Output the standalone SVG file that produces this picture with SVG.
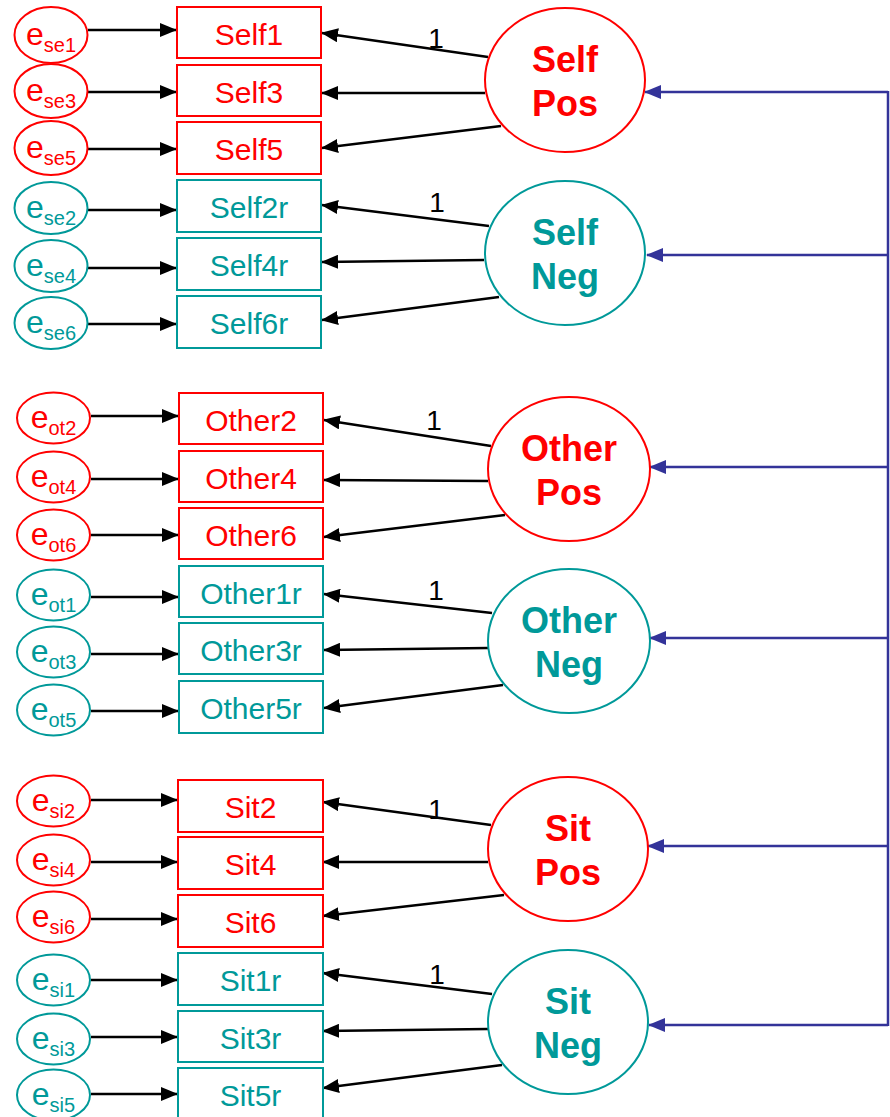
<svg xmlns="http://www.w3.org/2000/svg" width="890" height="1117" viewBox="0 0 890 1117">
<defs>
<style>
.r{stroke:#FF0000;fill:#fff;stroke-width:2}
.t{stroke:#009999;fill:#fff;stroke-width:2}
.rt{fill:#FF0000}
.tt{fill:#009999}
text{font-family:"Liberation Sans",Arial,sans-serif}
.lbl{font-size:30px;text-anchor:middle}
.err{font-size:32px;text-anchor:middle}
.sub{font-size:20px}
.lat{font-size:36px;font-weight:bold;text-anchor:middle}
.one{font-size:28px;text-anchor:middle;fill:#000}
.ar{stroke:#000;stroke-width:2.5;fill:none;marker-end:url(#ah)}
.bl{stroke:#333399;stroke-width:2.5;fill:none}
.ba{stroke:#333399;stroke-width:2.5;fill:none;marker-end:url(#bh)}
</style>
<marker id="ah" markerUnits="userSpaceOnUse" markerWidth="17" markerHeight="14" refX="16" refY="7" orient="auto"><path d="M0,0 L17,7 L0,14 z" fill="#000"/></marker>
<marker id="bh" markerUnits="userSpaceOnUse" markerWidth="17" markerHeight="14" refX="16" refY="7" orient="auto"><path d="M0,0 L17,7 L0,14 z" fill="#333399"/></marker>
</defs>
<rect width="890" height="1117" fill="#fff"/>

<g id="connectors">
<line class="ar" x1="88" y1="30" x2="176" y2="30"/>
<line class="ar" x1="88" y1="92" x2="176" y2="92"/>
<line class="ar" x1="88" y1="149" x2="176" y2="149"/>
<line class="ar" x1="88" y1="210" x2="176" y2="210"/>
<line class="ar" x1="88" y1="268" x2="176" y2="268"/>
<line class="ar" x1="88" y1="324" x2="176" y2="324"/>
<line class="ar" x1="91" y1="416" x2="178" y2="416"/>
<line class="ar" x1="91" y1="479" x2="178" y2="479"/>
<line class="ar" x1="91" y1="535" x2="178" y2="535"/>
<line class="ar" x1="91" y1="597" x2="178" y2="597"/>
<line class="ar" x1="91" y1="654" x2="178" y2="654"/>
<line class="ar" x1="91" y1="711" x2="178" y2="711"/>
<line class="ar" x1="91" y1="800" x2="177" y2="800"/>
<line class="ar" x1="91" y1="862" x2="177" y2="862"/>
<line class="ar" x1="91" y1="919" x2="177" y2="919"/>
<line class="ar" x1="91" y1="980" x2="177" y2="980"/>
<line class="ar" x1="91" y1="1037" x2="177" y2="1037"/>
<line class="ar" x1="91" y1="1094" x2="177" y2="1094"/>
<line class="ar" x1="488" y1="57" x2="322" y2="33"/>
<line class="ar" x1="485" y1="93" x2="322" y2="93"/>
<line class="ar" x1="501" y1="126" x2="322" y2="148"/>
<line class="ar" x1="489" y1="226" x2="322" y2="205"/>
<line class="ar" x1="484" y1="260" x2="322" y2="262"/>
<line class="ar" x1="499" y1="297" x2="322" y2="320"/>
<line class="ar" x1="491" y1="446" x2="324" y2="420"/>
<line class="ar" x1="488" y1="481" x2="324" y2="480"/>
<line class="ar" x1="505" y1="515" x2="324" y2="537"/>
<line class="ar" x1="492" y1="613" x2="324" y2="594"/>
<line class="ar" x1="488" y1="648" x2="324" y2="650"/>
<line class="ar" x1="503" y1="685" x2="324" y2="708"/>
<line class="ar" x1="491" y1="825" x2="323" y2="802"/>
<line class="ar" x1="488" y1="862" x2="323" y2="862"/>
<line class="ar" x1="504" y1="895" x2="323" y2="916"/>
<line class="ar" x1="492" y1="994" x2="323" y2="973"/>
<line class="ar" x1="488" y1="1029" x2="323" y2="1031"/>
<line class="ar" x1="502" y1="1065" x2="323" y2="1088"/>
<line class="bl" x1="888" y1="91" x2="888" y2="1026"/>
<line class="ba" x1="888" y1="92" x2="645" y2="92"/>
<line class="ba" x1="888" y1="255" x2="647" y2="255"/>
<line class="ba" x1="888" y1="467" x2="650" y2="467"/>
<line class="ba" x1="888" y1="638" x2="650" y2="638"/>
<line class="ba" x1="888" y1="846" x2="648" y2="846"/>
<line class="ba" x1="888" y1="1025" x2="649" y2="1025"/>
<text class="one" x="436" y="48">1</text>
<text class="one" x="437" y="212">1</text>
<text class="one" x="434" y="430">1</text>
<text class="one" x="436" y="600">1</text>
<text class="one" x="436" y="819">1</text>
<text class="one" x="437" y="984">1</text>
</g>

<g id="e_se1"><ellipse class="r" cx="51" cy="35" rx="36.5" ry="28"/><text class="err rt" x="51" y="45">e<tspan class="sub" dy="7">se1</tspan></text></g>
<g id="e_se3"><ellipse class="r" cx="51" cy="91" rx="36.5" ry="27"/><text class="err rt" x="51" y="101">e<tspan class="sub" dy="7">se3</tspan></text></g>
<g id="e_se5"><ellipse class="r" cx="51" cy="148" rx="36.5" ry="27"/><text class="err rt" x="51" y="158">e<tspan class="sub" dy="7">se5</tspan></text></g>
<g id="e_se2"><ellipse class="t" cx="51" cy="208" rx="36.5" ry="26"/><text class="err tt" x="51" y="218">e<tspan class="sub" dy="7">se2</tspan></text></g>
<g id="e_se4"><ellipse class="t" cx="51" cy="266" rx="36.5" ry="26"/><text class="err tt" x="51" y="276">e<tspan class="sub" dy="7">se4</tspan></text></g>
<g id="e_se6"><ellipse class="t" cx="51" cy="323" rx="36.5" ry="26"/><text class="err tt" x="51" y="333">e<tspan class="sub" dy="7">se6</tspan></text></g>

<g id="e_ot2"><ellipse class="r" cx="53.5" cy="418" rx="36.5" ry="25.5"/><text class="err rt" x="53.5" y="428">e<tspan class="sub" dy="7">ot2</tspan></text></g>
<g id="e_ot4"><ellipse class="r" cx="53.5" cy="477" rx="36.5" ry="25.5"/><text class="err rt" x="53.5" y="487">e<tspan class="sub" dy="7">ot4</tspan></text></g>
<g id="e_ot6"><ellipse class="r" cx="53.5" cy="535" rx="36.5" ry="25.5"/><text class="err rt" x="53.5" y="545">e<tspan class="sub" dy="7">ot6</tspan></text></g>
<g id="e_ot1"><ellipse class="t" cx="53.5" cy="595" rx="36.5" ry="25.5"/><text class="err tt" x="53.5" y="605">e<tspan class="sub" dy="7">ot1</tspan></text></g>
<g id="e_ot3"><ellipse class="t" cx="53.5" cy="652" rx="36.5" ry="25.5"/><text class="err tt" x="53.5" y="662">e<tspan class="sub" dy="7">ot3</tspan></text></g>
<g id="e_ot5"><ellipse class="t" cx="53.5" cy="710" rx="36.5" ry="25.5"/><text class="err tt" x="53.5" y="720">e<tspan class="sub" dy="7">ot5</tspan></text></g>

<g id="e_si2"><ellipse class="r" cx="53.5" cy="801" rx="36.5" ry="25.5"/><text class="err rt" x="53.5" y="811">e<tspan class="sub" dy="7">si2</tspan></text></g>
<g id="e_si4"><ellipse class="r" cx="53.5" cy="860" rx="36.5" ry="25.5"/><text class="err rt" x="53.5" y="870">e<tspan class="sub" dy="7">si4</tspan></text></g>
<g id="e_si6"><ellipse class="r" cx="53.5" cy="917" rx="36.5" ry="25.5"/><text class="err rt" x="53.5" y="927">e<tspan class="sub" dy="7">si6</tspan></text></g>
<g id="e_si1"><ellipse class="t" cx="53.5" cy="980" rx="36.5" ry="25.5"/><text class="err tt" x="53.5" y="990">e<tspan class="sub" dy="7">si1</tspan></text></g>
<g id="e_si3"><ellipse class="t" cx="53.5" cy="1039" rx="36.5" ry="25.5"/><text class="err tt" x="53.5" y="1049">e<tspan class="sub" dy="7">si3</tspan></text></g>
<g id="e_si5"><ellipse class="t" cx="53.5" cy="1095" rx="36.5" ry="25.5"/><text class="err tt" x="53.5" y="1105">e<tspan class="sub" dy="7">si5</tspan></text></g>

<g id="Self1"><rect class="r" x="177" y="7" width="144" height="51"/><text class="lbl rt" x="249" y="45">Self1</text></g>
<g id="Self3"><rect class="r" x="177" y="65" width="144" height="51"/><text class="lbl rt" x="249" y="103">Self3</text></g>
<g id="Self5"><rect class="r" x="177" y="122" width="144" height="52"/><text class="lbl rt" x="249" y="160">Self5</text></g>
<g id="Self2r"><rect class="t" x="177" y="180" width="144" height="52"/><text class="lbl tt" x="249" y="218">Self2r</text></g>
<g id="Self4r"><rect class="t" x="177" y="238" width="144" height="52"/><text class="lbl tt" x="249" y="276">Self4r</text></g>
<g id="Self6r"><rect class="t" x="177" y="296" width="144" height="52"/><text class="lbl tt" x="249" y="334">Self6r</text></g>

<g id="Other2"><rect class="r" x="179" y="393" width="144" height="51"/><text class="lbl rt" x="251" y="431">Other2</text></g>
<g id="Other4"><rect class="r" x="179" y="451" width="144" height="51"/><text class="lbl rt" x="251" y="489">Other4</text></g>
<g id="Other6"><rect class="r" x="179" y="508" width="144" height="51"/><text class="lbl rt" x="251" y="546">Other6</text></g>
<g id="Other1r"><rect class="t" x="179" y="566" width="144" height="51"/><text class="lbl tt" x="251" y="604">Other1r</text></g>
<g id="Other3r"><rect class="t" x="179" y="623" width="144" height="51"/><text class="lbl tt" x="251" y="661">Other3r</text></g>
<g id="Other5r"><rect class="t" x="179" y="681" width="144" height="52"/><text class="lbl tt" x="251" y="719">Other5r</text></g>

<g id="Sit2"><rect class="r" x="178" y="780" width="145" height="52"/><text class="lbl rt" x="250.5" y="818">Sit2</text></g>
<g id="Sit4"><rect class="r" x="178" y="837" width="145" height="52"/><text class="lbl rt" x="250.5" y="875">Sit4</text></g>
<g id="Sit6"><rect class="r" x="178" y="895" width="145" height="52"/><text class="lbl rt" x="250.5" y="933">Sit6</text></g>
<g id="Sit1r"><rect class="t" x="178" y="953" width="145" height="52"/><text class="lbl tt" x="250.5" y="991">Sit1r</text></g>
<g id="Sit3r"><rect class="t" x="178" y="1011" width="145" height="51"/><text class="lbl tt" x="250.5" y="1049">Sit3r</text></g>
<g id="Sit5r"><rect class="t" x="178" y="1068" width="145" height="52"/><text class="lbl tt" x="250.5" y="1106">Sit5r</text></g>

<g id="SelfPos"><ellipse class="r" cx="565" cy="80" rx="80" ry="72"/><text class="lat rt" x="565" y="72">Self</text><text class="lat rt" x="565" y="116">Pos</text></g>
<g id="SelfNeg"><ellipse class="t" cx="565" cy="253" rx="80" ry="72"/><text class="lat tt" x="565" y="245">Self</text><text class="lat tt" x="565" y="289">Neg</text></g>
<g id="OtherPos"><ellipse class="r" cx="569" cy="469" rx="81" ry="72"/><text class="lat rt" x="569" y="461">Other</text><text class="lat rt" x="569" y="505">Pos</text></g>
<g id="OtherNeg"><ellipse class="t" cx="569" cy="641" rx="81" ry="72"/><text class="lat tt" x="569" y="633">Other</text><text class="lat tt" x="569" y="677">Neg</text></g>
<g id="SitPos"><ellipse class="r" cx="568" cy="849" rx="80" ry="72"/><text class="lat rt" x="568" y="841">Sit</text><text class="lat rt" x="568" y="885">Pos</text></g>
<g id="SitNeg"><ellipse class="t" cx="568" cy="1022" rx="80" ry="72"/><text class="lat tt" x="568" y="1014">Sit</text><text class="lat tt" x="568" y="1058">Neg</text></g>
</svg>
